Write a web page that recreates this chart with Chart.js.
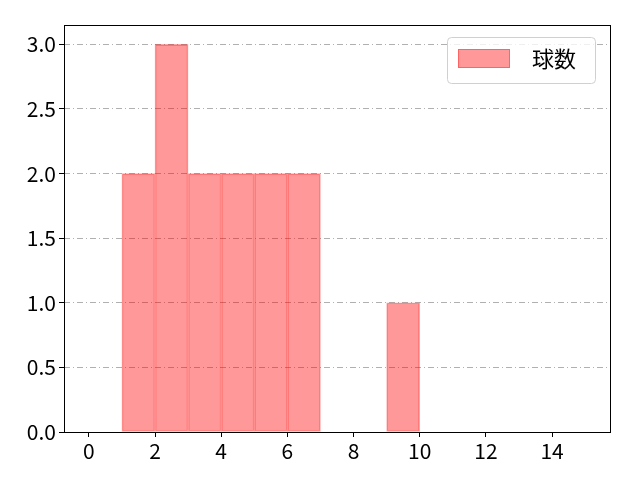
<!DOCTYPE html>
<html><head><meta charset="utf-8">
<script src="https://cdn.jsdelivr.net/npm/chart.js@4.4.1/dist/chart.umd.min.js"></script>
<style>html,body{margin:0;padding:0;background:#fff}#wrap{width:640px;height:480px}</style>
</head><body><div id="wrap"><canvas id="c" width="640" height="480"></canvas></div>
<script>
const binStarts = [1, 2, 3, 4, 5, 6, 9];
const counts = [2, 3, 2, 2, 2, 2, 1];
const xTicks = [0, 2, 4, 6, 8, 10, 12, 14];
const yTicks = [0, 0.5, 1.0, 1.5, 2.0, 2.5, 3.0];
const seriesLabel = '球数';

const FONT = '"Noto Sans CJK JP", "DejaVu Sans", sans-serif';

const framePlugin = {
  id: 'frame',
  afterDraw(chart) {
    const {ctx, chartArea: a} = chart;
    ctx.save();
    ctx.strokeStyle = '#000';
    ctx.lineWidth = 1;
    ctx.strokeRect(Math.round(a.left)+0.5, Math.round(a.top)+0.5, Math.round(a.right-a.left), Math.round(a.bottom-a.top));
    // legend
    const lx = 447.5, ly = 37.5, lw = 148, lh = 46;
    ctx.strokeStyle = '#d0d0d0';
    ctx.fillStyle = 'rgba(255,255,255,0.8)';
    ctx.beginPath();
    ctx.roundRect(lx, ly, lw, lh, 4);
    ctx.fill(); ctx.stroke();
    ctx.fillStyle = 'rgba(255,0,0,0.4)';
    ctx.fillRect(458, 49, 52, 19);
    ctx.strokeStyle = 'rgba(255,0,0,0.35)';
    ctx.strokeRect(458.5, 49.5, 51, 18);
    ctx.fillStyle = '#000';
    ctx.font = '22px ' + FONT;
    ctx.textBaseline = 'middle';
    ctx.fillText(seriesLabel, 532, 59);
    ctx.restore();
  }
};

new Chart(document.getElementById('c'), {
  type: 'bar',
  data: {
    datasets: [{
      label: seriesLabel,
      data: binStarts.map((s, i) => ({x: s + 0.5, y: counts[i]})),
      backgroundColor: 'rgba(255,0,0,0.4)',
      borderColor: 'rgba(255,0,0,0.35)',
      borderWidth: 1,
      borderSkipped: false,
      barPercentage: 1,
      categoryPercentage: 1
    }]
  },
  options: {
    responsive: false,
    animation: false,
    layout: {padding: {left: 0, right: 30, top: 25, bottom: 0}},
    plugins: {legend: {display: false}, tooltip: {enabled: false}},
    scales: {
      x: {
        type: 'linear',
        min: -0.75, max: 15.75,
        offset: false,
        afterBuildTicks: s => { s.ticks = xTicks.map(v => ({value: v})); },
        afterFit: s => { s.height = 48; },
        grid: {offset: false, drawOnChartArea: false, drawTicks: true, tickLength: 5, tickColor: '#000', color: '#000'},
        border: {display: false},
        ticks: {color: '#000', font: {size: 21, family: FONT}, padding: 1, maxRotation: 0, callback: v => String(v)}
      },
      y: {
        z: 1,
        min: 0, max: 3.15,
        afterBuildTicks: s => { s.ticks = yTicks.map(v => ({value: v})); },
        afterFit: s => { s.width = 64; },
        grid: {color: '#b0b0b0', lineWidth: 1, drawTicks: true, tickLength: 5, tickColor: '#000', tickBorderDash: []},
        border: {display: false, dash: [6, 3, 1, 3]},
        ticks: {color: '#000', font: {size: 21, family: FONT}, padding: 3, callback: v => v.toFixed(1)}
      }
    }
  },
  plugins: [framePlugin]
});
</script></body></html>
